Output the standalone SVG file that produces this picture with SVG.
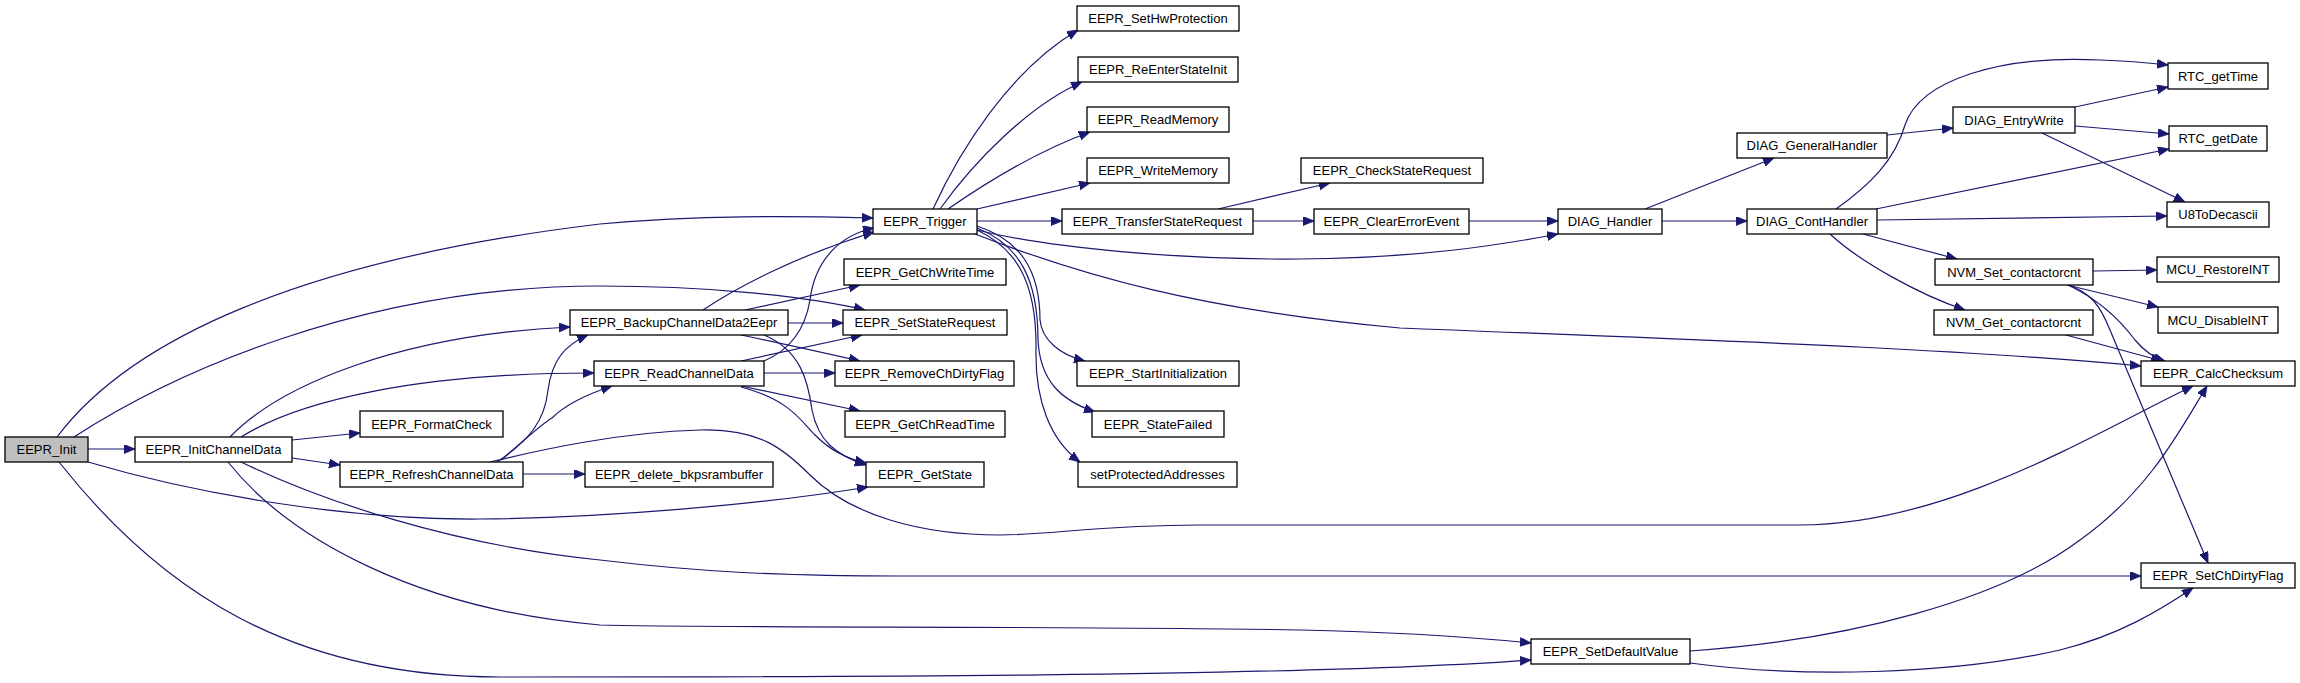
<svg xmlns="http://www.w3.org/2000/svg" width="2300" height="683" viewBox="0 0 2300 683">
<style>
.n rect{fill:#fff;stroke:#000;stroke-width:1.3}
.n.root rect{fill:#bfbfbf}
.n text{font-family:"Liberation Sans",Arial,sans-serif;font-size:13px;fill:#000;text-anchor:middle}
.e path{fill:none;stroke:#191970;stroke-width:1.2;marker-end:url(#ah)}
</style>
<defs>
<marker id="ah" markerUnits="userSpaceOnUse" markerWidth="12" markerHeight="10" refX="11" refY="4.5" orient="auto">
<path d="M0,0 L11,4.5 L0,9 z" fill="#191970" stroke="#191970" stroke-width="0.8"/>
</marker>
</defs>
<rect width="2300" height="683" fill="#fff"/>
<g id="edges" class="e">
<path d="M57,437 C130,340 300,260 600,224 C700,215 790,216 873,218"/>
<path d="M74,437 C170,375 360,286 600,286 C700,286 800,295 865,310"/>
<path d="M88,449 L135,449"/>
<path d="M88,462 C200,495 350,520 480,519 C600,518 760,505 868,487"/>
<path d="M59,462 C160,590 290,677 500,677 C800,677 1300,677 1531,660"/>
<path d="M230,437 C280,385 400,335 570,327"/>
<path d="M241,437 C300,400 420,373 594,373"/>
<path d="M292,440 L360,433"/>
<path d="M292,458 L340,465"/>
<path d="M241,462 C320,500 450,545 600,560 C700,572 780,576 900,576 L2141,576"/>
<path d="M228,462 C290,540 420,610 600,625 C700,628 1100,626 1300,630 C1400,632 1480,638 1531,643"/>
<path d="M523,474 L585,474"/>
<path d="M497,462 C530,440 545,420 548,390 C552,360 565,345 588,335"/>
<path d="M501,460 C525,440 540,425 552,418 C565,405 585,395 612,386"/>
<path d="M490,462 C540,450 620,432 700,430 C760,428 785,450 810,475 C850,515 920,535 1000,535 C1050,535 1100,525 1200,525 L1800,525 C1950,525 2100,430 2193,386"/>
<path d="M788,323 L843,323"/>
<path d="M703,310 C740,285 800,255 874,232"/>
<path d="M745,310 L860,285"/>
<path d="M741,335 C780,343 820,352 860,361"/>
<path d="M764,335 C800,350 808,380 812,410 C818,440 835,455 866,465"/>
<path d="M741,361 L862,335"/>
<path d="M764,361 C790,350 805,330 810,300 C815,260 840,235 874,228"/>
<path d="M764,373 L835,373"/>
<path d="M741,386 L860,411"/>
<path d="M741,387 C790,400 800,420 815,435 C830,450 845,458 866,463"/>
<path d="M933,209 C960,150 1010,70 1078,30"/>
<path d="M940,209 C975,160 1030,105 1082,82"/>
<path d="M948,209 C990,180 1040,150 1090,132"/>
<path d="M977,209 L1090,183"/>
<path d="M977,221 L1062,221"/>
<path d="M977,230 C1050,248 1180,260 1300,259 C1420,258 1500,245 1558,234"/>
<path d="M975,234 C1080,275 1200,310 1400,328 C1700,340 1950,348 2141,366"/>
<path d="M977,226 C1020,240 1040,270 1040,320 C1042,340 1060,355 1085,361"/>
<path d="M977,228 C1020,245 1038,280 1038,340 C1040,380 1060,400 1095,412"/>
<path d="M977,230 C1015,248 1037,280 1036,350 C1035,400 1050,440 1080,462"/>
<path d="M1218,209 L1330,183"/>
<path d="M1253,221 L1314,221"/>
<path d="M1469,221 L1558,221"/>
<path d="M1645,209 L1774,158"/>
<path d="M1662,221 L1747,221"/>
<path d="M1887,135 L1953,128"/>
<path d="M2075,107 L2168,87"/>
<path d="M2075,126 L2169,134"/>
<path d="M2042,133 L2185,202"/>
<path d="M1836,209 C1870,185 1895,160 1905,125 C1920,80 2000,55 2100,60 C2130,61 2150,63 2168,65"/>
<path d="M1876,209 L2169,149"/>
<path d="M1877,220 L2167,216"/>
<path d="M1863,234 L1957,259"/>
<path d="M1830,234 C1860,262 1920,295 1965,310"/>
<path d="M2093,271 L2157,270"/>
<path d="M2067,285 L2158,307"/>
<path d="M2068,285 C2100,300 2120,320 2135,340 C2145,352 2155,358 2165,361"/>
<path d="M2068,285 C2090,292 2100,305 2110,330 L2208,563"/>
<path d="M2066,335 L2162,361"/>
<path d="M1690,651 C1850,640 2000,600 2080,540 C2150,490 2180,430 2207,386"/>
<path d="M1690,663 C1800,678 1950,675 2060,650 C2120,635 2160,610 2193,588"/>
</g>
<g id="n_init" class="n root"><rect x="5" y="437" width="83" height="25"/><text x="46.5" y="454">EEPR_Init</text></g>
<g id="n_initch" class="n"><rect x="135" y="437" width="157" height="25"/><text x="213.5" y="454">EEPR_InitChannelData</text></g>
<g id="n_format" class="n"><rect x="360" y="411" width="143" height="26"/><text x="431.5" y="428.5">EEPR_FormatCheck</text></g>
<g id="n_refresh" class="n"><rect x="340" y="462" width="183" height="25"/><text x="431.5" y="479">EEPR_RefreshChannelData</text></g>
<g id="n_backup" class="n"><rect x="570" y="310" width="218" height="25"/><text x="679" y="327">EEPR_BackupChannelData2Eepr</text></g>
<g id="n_readch" class="n"><rect x="594" y="361" width="170" height="25"/><text x="679" y="378">EEPR_ReadChannelData</text></g>
<g id="n_delete" class="n"><rect x="585" y="462" width="188" height="25"/><text x="679" y="479">EEPR_delete_bkpsrambuffer</text></g>
<g id="n_trigger" class="n"><rect x="873" y="209" width="104" height="25"/><text x="925" y="226">EEPR_Trigger</text></g>
<g id="n_getchwrite" class="n"><rect x="844" y="259" width="162" height="26"/><text x="925" y="276.5">EEPR_GetChWriteTime</text></g>
<g id="n_setstatereq" class="n"><rect x="843" y="310" width="164" height="25"/><text x="925" y="327">EEPR_SetStateRequest</text></g>
<g id="n_removedirty" class="n"><rect x="835" y="361" width="179" height="25"/><text x="924.5" y="378">EEPR_RemoveChDirtyFlag</text></g>
<g id="n_getchread" class="n"><rect x="845" y="411" width="160" height="26"/><text x="925" y="428.5">EEPR_GetChReadTime</text></g>
<g id="n_getstate" class="n"><rect x="866" y="462" width="118" height="25"/><text x="925" y="479">EEPR_GetState</text></g>
<g id="n_sethw" class="n"><rect x="1077" y="6" width="162" height="25"/><text x="1158" y="23">EEPR_SetHwProtection</text></g>
<g id="n_reenter" class="n"><rect x="1078" y="57" width="160" height="25"/><text x="1158" y="74">EEPR_ReEnterStateInit</text></g>
<g id="n_readmem" class="n"><rect x="1087" y="107" width="142" height="25"/><text x="1158" y="124">EEPR_ReadMemory</text></g>
<g id="n_writemem" class="n"><rect x="1087" y="158" width="142" height="25"/><text x="1158" y="175">EEPR_WriteMemory</text></g>
<g id="n_transfer" class="n"><rect x="1062" y="209" width="191" height="25"/><text x="1157.5" y="226">EEPR_TransferStateRequest</text></g>
<g id="n_startinit" class="n"><rect x="1077" y="361" width="162" height="25"/><text x="1158" y="378">EEPR_StartInitialization</text></g>
<g id="n_statefailed" class="n"><rect x="1092" y="411" width="132" height="26"/><text x="1158" y="428.5">EEPR_StateFailed</text></g>
<g id="n_setprot" class="n"><rect x="1078" y="462" width="159" height="25"/><text x="1157.5" y="479">setProtectedAddresses</text></g>
<g id="n_checkstate" class="n"><rect x="1301" y="158" width="182" height="25"/><text x="1392" y="175">EEPR_CheckStateRequest</text></g>
<g id="n_clearerr" class="n"><rect x="1314" y="209" width="155" height="25"/><text x="1391.5" y="226">EEPR_ClearErrorEvent</text></g>
<g id="n_diaghandler" class="n"><rect x="1558" y="209" width="104" height="25"/><text x="1610" y="226">DIAG_Handler</text></g>
<g id="n_setdefault" class="n"><rect x="1531" y="639" width="159" height="25"/><text x="1610.5" y="656">EEPR_SetDefaultValue</text></g>
<g id="n_general" class="n"><rect x="1737" y="133" width="150" height="25"/><text x="1812" y="150">DIAG_GeneralHandler</text></g>
<g id="n_cont" class="n"><rect x="1747" y="209" width="130" height="25"/><text x="1812" y="226">DIAG_ContHandler</text></g>
<g id="n_entry" class="n"><rect x="1953" y="107" width="122" height="26"/><text x="2014" y="124.5">DIAG_EntryWrite</text></g>
<g id="n_nvmset" class="n"><rect x="1935" y="259" width="158" height="26"/><text x="2014" y="276.5">NVM_Set_contactorcnt</text></g>
<g id="n_nvmget" class="n"><rect x="1934" y="310" width="159" height="25"/><text x="2013.5" y="327">NVM_Get_contactorcnt</text></g>
<g id="n_rtctime" class="n"><rect x="2168" y="63" width="100" height="26"/><text x="2218" y="80.5">RTC_getTime</text></g>
<g id="n_rtcdate" class="n"><rect x="2169" y="126" width="98" height="25"/><text x="2218" y="143">RTC_getDate</text></g>
<g id="n_u8" class="n"><rect x="2167" y="202" width="102" height="25"/><text x="2218" y="219">U8ToDecascii</text></g>
<g id="n_restore" class="n"><rect x="2157" y="257" width="122" height="25"/><text x="2218" y="274">MCU_RestoreINT</text></g>
<g id="n_disable" class="n"><rect x="2158" y="307" width="120" height="26"/><text x="2218" y="324.5">MCU_DisableINT</text></g>
<g id="n_calc" class="n"><rect x="2141" y="361" width="154" height="25"/><text x="2218" y="378">EEPR_CalcChecksum</text></g>
<g id="n_setdirty" class="n"><rect x="2141" y="563" width="154" height="25"/><text x="2218" y="580">EEPR_SetChDirtyFlag</text></g>
</svg>
